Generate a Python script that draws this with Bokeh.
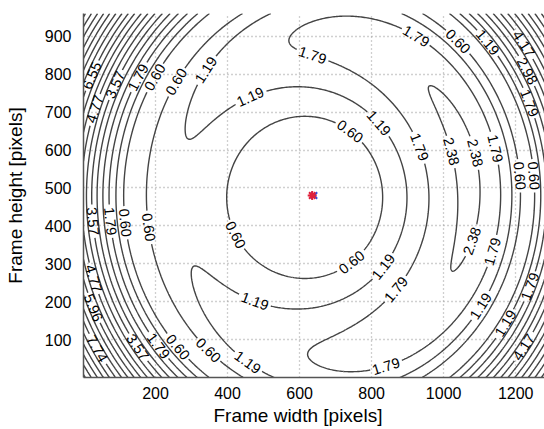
import numpy as np
from contourpy import contour_generator
from bokeh.plotting import figure
from bokeh.models import ColumnDataSource, Range1d, FixedTicker, Title
from bokeh.embed import file_html
from bokeh.resources import INLINE
from bokeh.core.properties import value

# ---------------- data ----------------
frame_width_px = 1280
frame_height_px = 960
x_ticks = [200, 400, 600, 800, 1000, 1200]
y_ticks = [100, 200, 300, 400, 500, 600, 700, 800, 900]
contour_levels = [0.60, 1.19, 1.79, 2.38, 2.98, 3.57, 4.17, 4.77, 5.36, 5.96,
                  6.55, 7.15, 7.74, 8.34, 8.93, 9.53, 10.13, 10.72, 11.32, 11.91,
                  12.51, 13.11]
principal_point = [635, 480]
image_center = [640, 480]
# displacement-magnitude model
displacement_center = [630, 476]   # where the displacement vanishes
zero_ring_center = [686, 480]      # centre of the ring where it vanishes again
zero_ring_radius = 548             # horizontal radius of that ring (px)
zero_ring_aspect = 0.96            # vertical squeeze of the ring
growth_max = 40.0                  # px of displacement per 1000 px off the ring
growth_radius = 601                # px

# contour-label anchors (frame pixels) and their texts
label_x = [29, 82, 138, 175, 249, 328, 18, 460,
           920, 1036, 1113, 1225, 1225, 1252,
           640, 818, 738, 930, 1008, 1086, 1147, 1211, 1258,
           13, 46, 110, 171, 406,
           23, 41, 37, 148, 212, 259, 346, 471, 460,
           750, 832, 871, 1086, 1128, 1097, 835, 1169, 1230, 1216]
label_y = [792, 776, 797, 805, 784, 818, 712, 745,
           897, 881, 876, 881, 805, 731,
           855, 670, 650, 607, 591, 591, 604, 533, 533,
           409, 409, 409, 393, 367,
           261, 190, 77, 77, 84, 77, 71, 188, 47,
           298, 293, 230, 356, 335, 190, 50, 145, 245, 85]
label_text = ["6.55", "3.57", "1.79", "0.60", "0.60", "1.19", "4.77", "1.19",
              "1.79", "0.60", "1.19", "4.17", "2.98", "1.79",
              "1.79", "1.19", "0.60", "1.79", "2.38", "2.38", "1.79", "0.60", "0.60",
              "3.57", "1.79", "0.60", "0.60", "0.60",
              "4.77", "5.96", "7.74", "3.57", "1.79", "0.60", "0.60", "1.19", "1.19",
              "0.60", "1.19", "1.79", "2.38", "1.79", "1.19", "1.79", "1.19", "1.79", "4.17"]
x_title = "Frame width [pixels]"
y_title = "Frame height [pixels]"

# ---------------- field ----------------
gx = np.linspace(0, frame_width_px, 321)
gy = np.linspace(0, frame_height_px, 241)
XX, YY = np.meshgrid(gx, gy)
s1 = np.hypot(XX - displacement_center[0], YY - displacement_center[1])
s2 = np.hypot(XX - zero_ring_center[0], (YY - zero_ring_center[1]) * zero_ring_aspect)
growth = growth_max * np.tanh((s1 / growth_radius) ** 3)
Z = growth * np.abs(zero_ring_radius - s2) / 1000.0

gen = contour_generator(x=gx, y=gy, z=Z)
lines_by_level = {lev: [np.asarray(l) for l in gen.lines(lev)] for lev in contour_levels}

W, H = 544, 429
BL, BR, BT, BB = 83, 0, 13, 52
SX = (W - BL - BR) / frame_width_px
SY = (H - BT - BB) / frame_height_px

gaps = {}
lab = dict(x=[], y=[], text=[], angle=[])
for lx, ly, lt in zip(label_x, label_y, label_text):
    lev = float(lt)
    best = None
    for i, ln in enumerate(lines_by_level.get(lev, [])):
        d = ((ln[:, 0] - lx) * SX) ** 2 + ((ln[:, 1] - ly) * SY) ** 2
        j = int(np.argmin(d))
        if best is None or d[j] < best[0]:
            best = (d[j], i, j)
    if best is None:
        continue
    _, i, j = best
    ln = lines_by_level[lev][i]
    j0, j1 = max(j - 4, 0), min(j + 4, len(ln) - 1)
    ang = np.arctan2((ln[j1, 1] - ln[j0, 1]) * SY, (ln[j1, 0] - ln[j0, 0]) * SX)
    if ang > np.pi / 2:
        ang -= np.pi
    if ang < -np.pi / 2:
        ang += np.pi
    cx, cy = ln[j, 0], ln[j, 1]
    gaps.setdefault((lev, i), []).append((cx, cy))
    lab["x"].append(cx)
    lab["y"].append(cy)
    lab["text"].append(lt)
    lab["angle"].append(float(ang))

seg_xs, seg_ys = [], []
for lev, lns in lines_by_level.items():
    for i, ln in enumerate(lns):
        keep = np.ones(len(ln), dtype=bool)
        for (cx, cy) in gaps.get((lev, i), []):
            d = np.hypot((ln[:, 0] - cx) * SX, (ln[:, 1] - cy) * SY)
            keep &= d > 16
        idx = np.where(keep)[0]
        if len(idx) == 0:
            continue
        splits = np.where(np.diff(idx) > 1)[0] + 1
        for part in np.split(idx, splits):
            if len(part) > 1:
                seg_xs.append(ln[part, 0].tolist())
                seg_ys.append(ln[part, 1].tolist())

# ---------------- figure ----------------
p = figure(width=W, height=H, x_range=Range1d(0, frame_width_px), y_range=Range1d(0, frame_height_px),
           output_backend="svg", toolbar_location=None,
           min_border_left=BL, min_border_right=BR, min_border_top=BT, min_border_bottom=BB)
p.outline_line_color = None
p.background_fill_color = "white"
p.border_fill_color = "white"

p.xaxis.ticker = FixedTicker(ticks=x_ticks)
p.yaxis.ticker = FixedTicker(ticks=y_ticks)
for ax in (p.xaxis[0], p.yaxis[0]):
    ax.axis_line_color = "#555555"
    ax.axis_line_width = 1.5
    ax.major_tick_line_color = None
    ax.minor_tick_line_color = None
    ax.major_label_text_font = "Liberation Sans"
    ax.major_label_text_font_size = "16px"
    ax.major_label_text_color = "#000000"
    ax.axis_label_text_font = "Liberation Sans"
    ax.axis_label_text_font_size = "19px"
    ax.axis_label_text_font_style = "normal"
    ax.axis_label_text_color = "#000000"
p.yaxis.axis_label = y_title
p.xaxis.major_label_standoff = 3
p.yaxis.major_label_standoff = 6
p.yaxis.axis_label_standoff = 16

p.add_layout(Title(text=x_title, align="left", offset=130, standoff=2,
                   text_font="Liberation Sans", text_font_size="19px",
                   text_font_style="normal", text_color="#000000"), "below")

for g in (p.xgrid[0], p.ygrid[0]):
    g.grid_line_color = "#a0a0a0"
    g.grid_line_dash = "1 3"
    g.grid_line_width = 1.3

p.multi_line(xs=seg_xs, ys=seg_ys, line_color="#444444", line_width=1.4)

src = ColumnDataSource(lab)
p.text(x="x", y="y", text="text", angle="angle", source=src,
       text_font=value("Liberation Sans"), text_font_size="14.5px",
       text_align="center", text_baseline="middle", text_color="#000000")

p.scatter(x=[image_center[0]], y=[image_center[1]], marker="x", size=9,
          line_color="#3050e0", line_width=2)
p.scatter(x=[principal_point[0]], y=[principal_point[1]], marker="asterisk", size=9,
          line_color="#e0203a", line_width=2)

open("out.html", "w").write(file_html(p, INLINE))
